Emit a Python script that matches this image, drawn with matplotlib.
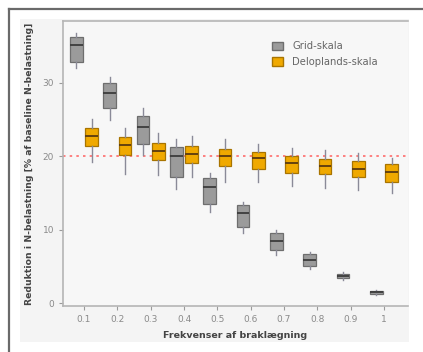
import matplotlib.pyplot as plt
from matplotlib.patches import Rectangle, Patch
from matplotlib.lines import Line2D

# data
frekvenser = ["0.1", "0.2", "0.3", "0.4", "0.5", "0.6", "0.7", "0.8", "0.9", "1"]

grid_med = [35.1, 28.6, 24.0, 20.0, 15.8, 12.2, 8.5, 5.9, 3.7, 1.5]
grid_q1 = [32.8, 26.5, 21.6, 17.1, 13.5, 10.4, 7.2, 5.1, 3.4, 1.3]
grid_q3 = [36.2, 29.9, 25.4, 21.3, 17.0, 13.3, 9.5, 6.7, 4.0, 1.6]
grid_lo = [32.0, 24.9, 20.1, 15.5, 12.4, 9.6, 6.5, 4.7, 3.2, 1.1]
grid_hi = [36.8, 30.8, 26.6, 22.3, 17.7, 13.8, 9.9, 7.0, 4.2, 1.8]

delo_med = [22.7, 21.5, 20.7, 20.3, 20.0, 19.7, 19.1, 18.7, 18.3, 17.9]
delo_q1 = [21.4, 20.1, 19.5, 19.0, 18.6, 18.3, 17.7, 17.6, 17.1, 16.5]
delo_q3 = [23.8, 22.6, 21.8, 21.4, 21.0, 20.6, 20.0, 19.6, 19.3, 18.9]
delo_lo = [19.2, 17.6, 17.4, 17.2, 16.5, 16.5, 15.9, 15.7, 15.4, 15.0]
delo_hi = [25.1, 23.8, 23.1, 22.7, 22.3, 21.6, 21.1, 20.8, 20.4, 19.7]

maal = 20

def stats(med, q1, q3, lo, hi):
    out = []
    for i in range(len(med)):
        out.append({"med": med[i], "q1": q1[i], "q3": q3[i],
                    "whislo": lo[i], "whishi": hi[i], "fliers": []})
    return out

fig = plt.figure(figsize=(4.23, 3.52), dpi=100)
fig.patch.set_facecolor("white")

# outer frame and light panel
fig.add_artist(Rectangle((20 / 423, 1 - 342 / 352), 389 / 423, 323 / 352,
                         transform=fig.transFigure, facecolor="#f4f4f4",
                         edgecolor="none", zorder=0))
fig.add_artist(Line2D([9 / 423, 9 / 423], [0, 1 - 9 / 352], transform=fig.transFigure,
                      color="#6a6a6a", lw=1.6))
fig.add_artist(Line2D([9 / 423, 1], [1 - 9 / 352, 1 - 9 / 352], transform=fig.transFigure,
                      color="#6a6a6a", lw=1.6))

ax = fig.add_axes([63 / 423, 1 - 306 / 352, 345 / 423, 285 / 352])
ax.set_facecolor("#f7f7f7")

pos = list(range(1, len(frekvenser) + 1))
off = 0.23
w = 0.38

ax.axhline(maal, color="#ff6b6b", lw=1.2, ls=(0, (1.5, 2.5)), zorder=1)

ax.bxp(stats(grid_med, grid_q1, grid_q3, grid_lo, grid_hi),
       positions=[p - off for p in pos], widths=w, patch_artist=True,
       showcaps=False, showfliers=False,
       boxprops=dict(facecolor="#9b9b9b", edgecolor="#6e6e6e", lw=0.9),
       medianprops=dict(color="#3c3c3c", lw=1.3),
       whiskerprops=dict(color="#8a8a98", lw=1.0))
ax.bxp(stats(delo_med, delo_q1, delo_q3, delo_lo, delo_hi),
       positions=[p + off for p in pos], widths=w, patch_artist=True,
       showcaps=False, showfliers=False,
       boxprops=dict(facecolor="#f0a900", edgecolor="#a87400", lw=0.9),
       medianprops=dict(color="#5a3a10", lw=1.3),
       whiskerprops=dict(color="#8a8a98", lw=1.0))

ax.set_xlim(0.37, 10.72)
ax.set_ylim(-0.4, 38.4)
ax.set_xticks(pos)
ax.set_xticklabels(frekvenser)
ax.set_yticks([0, 10, 20, 30])

ax.spines["right"].set_visible(False)
for s in ["top", "left", "bottom"]:
    ax.spines[s].set_color("#b5b5b5")
    ax.spines[s].set_linewidth(1.2)
ax.tick_params(colors="#9a9a9a", labelsize=6.5, length=3, width=0.8)
for lab in ax.get_xticklabels() + ax.get_yticklabels():
    lab.set_color("#8a8a8a")

ax.set_xlabel("Frekvenser af braklægning", fontsize=6.8, fontweight="bold",
              color="#444444", labelpad=5)
ax.set_ylabel("Reduktion i N-belastning [% af baseline N-belastning]", fontsize=6.7,
              fontweight="bold", color="#444444", labelpad=6)

handles = [Patch(facecolor="#9b9b9b", edgecolor="#6e6e6e", label="Grid-skala"),
           Patch(facecolor="#f0a900", edgecolor="#a87400", label="Deloplands-skala")]
leg = ax.legend(handles=handles, loc="upper left", bbox_to_anchor=(0.58, 0.96),
                frameon=False, fontsize=7.2, handlelength=1.1, handleheight=1.0,
                handletextpad=0.9, labelspacing=0.55)
for t in leg.get_texts():
    t.set_color("#666666")

fig.savefig("out.png", dpi=100)
